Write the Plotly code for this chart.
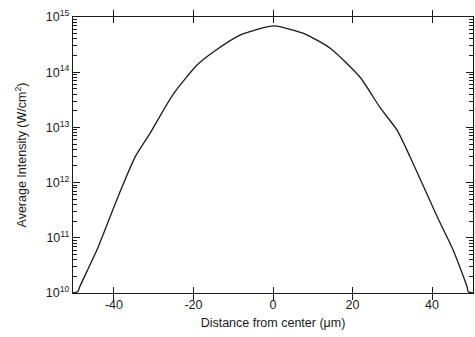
import plotly.graph_objects as go

# Data (distance in um, intensity in W/cm^2)
distance_um = [-50.3, -49.1, -48.6, -44.3, -39.0, -34.7, -30.9, -25.2, -19.1, -15.1,
               -8.3, -1.5, 0.5, 7.5, 14.3, 21.9, 26.9, 31.2, 34.5, 41.3,
               45.3, 48.8, 49.1, 50.3]
intensity = [1.0e10, 1.05e10, 1.3e10, 6.0e10, 5.5e11, 2.9e12, 7.9e12, 3.9e13, 1.35e14,
             2.3e14, 4.7e14, 6.6e14, 6.9e14, 5.1e14, 2.75e14, 8.1e13, 2.3e13, 8.9e12,
             2.9e12, 2.4e11, 6.0e10, 1.3e10, 1.05e10, 1.0e10]

x_ticks = [-40, -20, 0, 20, 40]
y_tick_vals = [1e10, 1e11, 1e12, 1e13, 1e14, 1e15]
y_tick_text = ["10<sup>10</sup>", "10<sup>11</sup>", "10<sup>12</sup>",
               "10<sup>13</sup>", "10<sup>14</sup>", "10<sup>15</sup>"]
y_minor_vals = [m * d for d in [1e10, 1e11, 1e12, 1e13, 1e14] for m in range(2, 10)]

ink = "#1a1a1a"
font_family = "Liberation Sans, Arial, sans-serif"

fig = go.Figure()
fig.add_trace(go.Scatter(
    x=distance_um, y=intensity, mode="lines",
    line=dict(color=ink, width=1.3, shape="spline", smoothing=0.6),
    showlegend=False, hoverinfo="skip"))
# invisible trace on an overlay axis carrying the minor ticks
fig.add_trace(go.Scatter(
    x=distance_um, y=intensity, mode="markers", yaxis="y2", xaxis="x",
    marker=dict(opacity=0, size=1), showlegend=False, hoverinfo="skip"))

fig.update_layout(
    template="simple_white",
    width=475, height=337,
    margin=dict(l=73, r=2, t=17, b=44),
    paper_bgcolor="white", plot_bgcolor="rgba(0,0,0,0)",
    font=dict(family=font_family, size=12, color=ink),
    xaxis=dict(
        range=[-50.3, 50.3], tickmode="array", tickvals=x_ticks,
        ticktext=[str(v) for v in x_ticks],
        ticks="inside", ticklen=6, tickwidth=1.2, tickcolor=ink, layer="above traces",
        showline=True, linecolor=ink, linewidth=1.2, mirror="allticks",
        showgrid=False, zeroline=False,
        tickfont=dict(size=12.5),
        title=dict(text="Distance from center (\u03bcm)", font=dict(size=12.5), standoff=7),
    ),
    yaxis=dict(
        type="log", range=[10, 15], tickmode="array", tickvals=y_tick_vals,
        ticktext=y_tick_text,
        ticks="inside", ticklen=7, tickwidth=1.2, tickcolor=ink, layer="above traces",
        showline=True, linecolor=ink, linewidth=1.2, mirror="allticks",
        showgrid=False, zeroline=False,
        tickfont=dict(size=12.5),
        title=dict(text="Average Intensity (W/cm<sup>2</sup>)", font=dict(size=12.5), standoff=16),
    ),
    yaxis2=dict(
        type="log", range=[10, 15], overlaying="y", side="left", anchor="x",
        tickmode="array", tickvals=y_minor_vals, ticktext=[""] * len(y_minor_vals),
        showticklabels=False, layer="above traces",
        ticks="inside", ticklen=4, tickwidth=1, tickcolor=ink,
        showline=True, linecolor=ink, linewidth=1.2, mirror="allticks",
        showgrid=False, zeroline=False,
    ),
)

fig.write_html("out.html")
